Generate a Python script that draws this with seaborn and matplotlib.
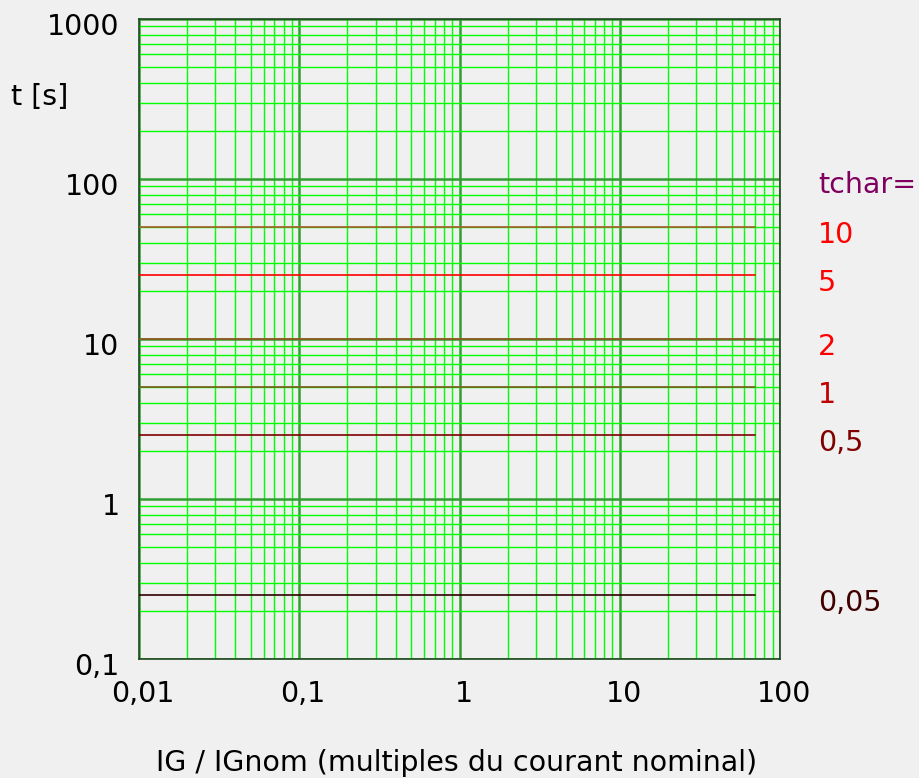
import pandas as pd
import matplotlib.pyplot as plt
import matplotlib.transforms as mtransforms
import seaborn as sns

# tripping characteristic: t [s] for each tchar setting
tchar_labels = ["10", "5", "2", "1", "0,5", "0,05"]
t_values = [50, 25, 10, 5, 2.5, 0.25]
current_range = [0.01, 70]
line_colors = ["#a85a2a", "#ff0000", "#9a5420", "#7a5a1a", "#800000", "#300000"]
label_colors = ["#ff0000", "#ff0000", "#ff0000", "#c00000", "#800000", "#400000"]

x_ticks = [0.01, 0.1, 1, 10, 100]
x_ticklabels = ["0,01", "0,1", "1", "10", "100"]
y_ticks = [0.1, 1, 10, 100, 1000]
y_ticklabels = ["0,1", "1", "10", "100", "1000"]

rows = []
for lab, t in zip(tchar_labels, t_values):
    for ig in current_range:
        rows.append({"tchar": lab, "ig": ig, "t": t})
df = pd.DataFrame(rows)

sns.set_theme(style="white")
plt.rcParams["font.family"] = ["DejaVu Sans"]
plt.rcParams["text.color"] = "black"

fs = 20.5
bg = "#f0f0f0"
fig = plt.figure(figsize=(9.19, 7.78), dpi=100, facecolor=bg)
ax = fig.add_axes([139 / 919, 1 - 659 / 778, 641 / 919, 640 / 778])
ax.set_facecolor(bg)

sns.lineplot(
    data=df, x="ig", y="t", hue="tchar",
    palette=dict(zip(tchar_labels, line_colors)),
    legend=False, linewidth=1.2, ax=ax, zorder=3
)

ax.set_xscale("log")
ax.set_yscale("log")
ax.set_xlim(0.01, 100)
ax.set_ylim(0.1, 1000)

ax.set_xticks(x_ticks)
ax.set_xticklabels(x_ticklabels)
ax.set_yticks(y_ticks)
ax.set_yticklabels(y_ticklabels)
ax.tick_params(axis="both", which="both", length=0, labelsize=fs, colors="black")
ax.tick_params(axis="x", pad=15)
ax.tick_params(axis="y", pad=14)

# y tick labels sit a little below their ticks in the original
shift = mtransforms.ScaledTranslation(0, -5 / 100, fig.dpi_scale_trans)
for lbl in ax.get_yticklabels():
    lbl.set_transform(lbl.get_transform() + shift)
shift_x = mtransforms.ScaledTranslation(4 / 100, 0, fig.dpi_scale_trans)
for lbl in ax.get_xticklabels():
    lbl.set_transform(lbl.get_transform() + shift_x)

ax.grid(True, which="minor", color="#00ff00", linewidth=1.0)
ax.grid(True, which="major", color="#30a030", linewidth=1.8)
ax.set_axisbelow(True)

for s in ax.spines.values():
    s.set_color("#1f4a1f")
    s.set_linewidth(1.2)

ax.set_xlabel("")
ax.set_ylabel("")

fig.text(40 / 919, 1 - 97 / 778, "t [s]", fontsize=fs, color="black",
         ha="center", va="center")
fig.text(457 / 919, 1 - 763 / 778, "IG / IGnom (multiples du courant nominal)",
         fontsize=fs, color="black", ha="center", va="center")

ax.annotate("tchar=", xy=(1.059, 100), xycoords=("axes fraction", "data"),
            xytext=(0, -4), textcoords="offset points",
            fontsize=fs, color="#800060", ha="left", va="center")
for lab, t, c in zip(tchar_labels, t_values, label_colors):
    ax.annotate(lab, xy=(1.059, t), xycoords=("axes fraction", "data"),
                xytext=(0, -5.5), textcoords="offset points",
                fontsize=fs, color=c, ha="left", va="center")

fig.savefig("out.png", dpi=100, facecolor=bg)
